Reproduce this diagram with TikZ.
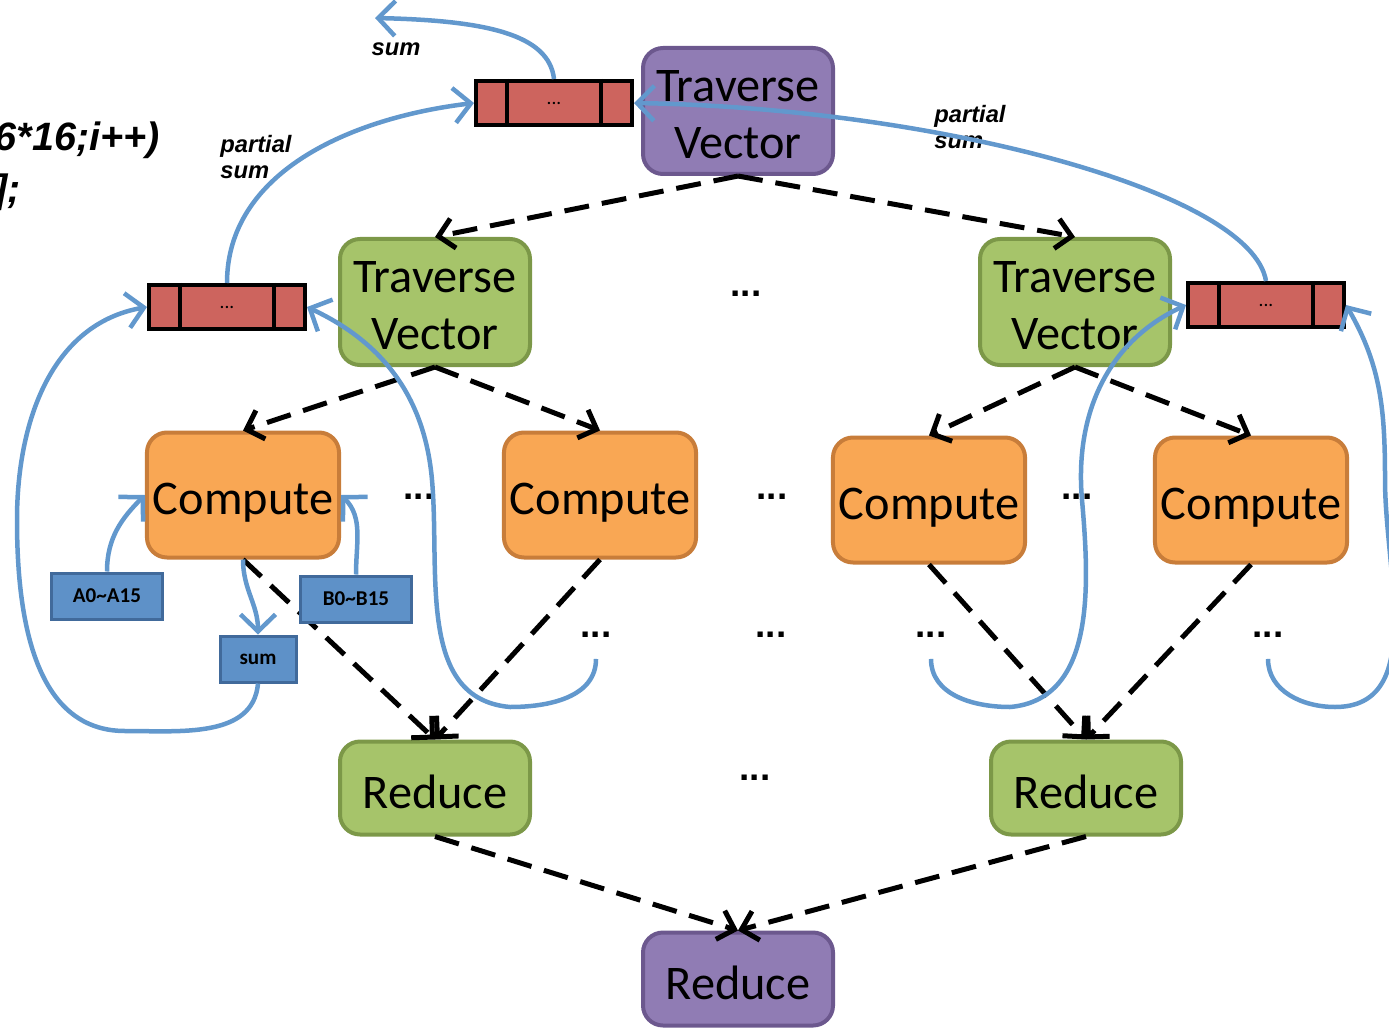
\documentclass[tikz,border=0pt]{standalone}
\usepackage{fontspec}
\setmainfont{Carlito}
\newfontfamily\arialfont{Liberation Sans}
\usepackage{tikz}
\usetikzlibrary{arrows.meta,positioning}

\definecolor{tvpurple}{RGB}{144,124,180}
\definecolor{purpleline}{RGB}{108,88,142}
\definecolor{tvgreen}{RGB}{166,196,106}
\definecolor{greenline}{RGB}{124,152,72}
\definecolor{cporange}{RGB}{249,167,84}
\definecolor{orangeline}{RGB}{200,125,58}
\definecolor{bufred}{RGB}{205,100,94}
\definecolor{regblue}{RGB}{94,145,200}
\definecolor{blueline}{RGB}{65,106,155}
\definecolor{flowblue}{RGB}{98,152,205}

\tikzstyle{bigbox} = [line width=0.08cm, rounded corners=0.4cm, minimum width=3.8cm, align=center, font=\fontsize{27.5}{32.5}\selectfont]
\tikzstyle{purplebox} = [bigbox, draw=purpleline, fill=tvpurple]
\tikzstyle{greenbox} = [bigbox, draw=greenline, fill=tvgreen]
\tikzstyle{tvbox} = [minimum height=2.52cm, text height=54.5pt]
\tikzstyle{reducebox} = [minimum height=1.86cm, text height=24pt]
\tikzstyle{computebox} = [bigbox, draw=orangeline, fill=cporange, minimum height=2.5cm, text height=27pt]
\tikzstyle{bufbox} = [draw=black, fill=bufred, line width=0.08cm, minimum width=3.12cm, minimum height=0.88cm, font=\fontsize{11}{12}\selectfont]
\tikzstyle{regbox} = [draw=blueline, fill=regblue, line width=0.06cm, minimum height=0.92cm, font=\bfseries\fontsize{12}{14}\selectfont]
\tikzstyle{dots} = [font=\arialfont\bfseries\fontsize{21}{22}\selectfont]
\tikzstyle{labeltext} = [inner sep=0pt, align=left, font=\arialfont\bfseries\itshape\fontsize{13.5}{14.7}\selectfont]
\tikzstyle{codetext} = [inner sep=0pt, font=\arialfont\bfseries\itshape\fontsize{22.5}{26}\selectfont]
\tikzstyle{dasharrow} = [line width=0.1cm, dash pattern=on 0.5cm off 0.26cm, -{Straight Barb[length=0.3cm,width=0.6cm]}]
\tikzstyle{bluearrow} = [line width=0.09cm, flowblue, -{Straight Barb[length=0.34cm,width=0.7cm]}]

\begin{document}
\begin{tikzpicture}
\useasboundingbox (0,0) rectangle (27.78,-20.56);

\node[codetext, anchor=east] (code1) at (3.20,-2.80) {6*16;i++)};
\node[codetext, anchor=east] (code2) at (0.42,-3.84) {];};

\node[purplebox, tvbox] (tvtop) at (14.76,-2.22) {Traverse\\Vector};
\node[greenbox, tvbox] (tvleft) at (8.70,-6.04) {Traverse\\Vector};
\node[greenbox, tvbox] (tvright) at (21.50,-6.04) {Traverse\\Vector};

\node[bufbox] (buftop) at (11.08,-2.06) {...};
\node[bufbox] (bufleft) at (4.54,-6.14) {...};
\node[bufbox] (bufright) at (25.32,-6.10) {...};
\foreach \b in {buftop,bufleft,bufright}{
    \draw[line width=0.08cm] ([xshift=0.66cm]\b.north west) -- ([xshift=0.66cm]\b.south west);
    \draw[line width=0.08cm] ([xshift=-0.66cm]\b.north east) -- ([xshift=-0.66cm]\b.south east);
}

\node[computebox] (comp1) at (4.86,-9.90) {Compute};
\node[computebox] (comp2) at (12.00,-9.90) {Compute};
\node[computebox] (comp3) at (18.58,-10.00) {Compute};
\node[computebox] (comp4) at (25.02,-10.00) {Compute};

\node[greenbox, reducebox] (red1) at (8.70,-15.76) {Reduce};
\node[greenbox, reducebox] (red2) at (21.72,-15.76) {Reduce};
\node[purplebox, reducebox] (redbot) at (14.76,-19.58) {Reduce};

\node[dots] (dotsTV) at (14.92,-5.88) {...};
\node[dots] (dotsC1) at (8.38,-9.94) {...};
\node[dots] (dotsC2) at (15.44,-9.94) {...};
\node[dots] (dotsC3) at (21.54,-9.94) {...};
\node[dots] (dotsA) at (11.92,-12.70) {...};
\node[dots] (dotsB) at (15.42,-12.70) {...};
\node[dots] (dotsC) at (18.62,-12.70) {...};
\node[dots] (dotsD) at (25.36,-12.70) {...};
\node[dots] (dotsR) at (15.10,-15.56) {...};

\foreach \a/\b in {tvtop/tvleft,tvtop/tvright,tvleft/comp1,tvleft/comp2,tvright/comp3,tvright/comp4,comp1/red1,comp2/red1,comp3/red2,comp4/red2,red1/redbot,red2/redbot}{
    \draw[dasharrow] (\a.south) -- (\b.north);
}

\node[regbox, minimum width=2.22cm] (boxA) at (2.14,-11.92) {A0\textasciitilde A15};
\node[regbox, minimum width=2.22cm] (boxB) at (7.12,-11.98) {B0\textasciitilde B15};
\node[regbox, minimum width=1.52cm] (sum) at (5.16,-13.18) {sum};

\node[labeltext] (sumlabel) at (7.92,-0.98) {sum};
\node[labeltext, anchor=west] (psleft) at (4.40,-3.14) {partial\\sum};
\node[labeltext, anchor=west] (psright) at (18.68,-2.54) {partial\\sum};

\coordinate (sumout) at (7.50,-0.36);
\coordinate (loopL1) at (2.50,-14.62);
\coordinate (loopL2) at (0.34,-10.40);
\coordinate (loopA1) at (10.20,-14.14);
\coordinate (loopA2) at (8.64,-9.60);
\coordinate (loopC1) at (20.20,-14.14);
\coordinate (loopC2) at (21.64,-10.00);
\coordinate (loopD1) at (26.70,-14.14);
\coordinate (loopD2) at (27.70,-9.60);

\draw[bluearrow] (buftop.north) .. controls +(-0.1,0.9) and +(2.2,-0.05) .. (sumout);
\draw[bluearrow] (bufleft.north) .. controls +(0,2.2) and +(-2.5,-0.3) .. (buftop.west);
\draw[bluearrow] (bufright.north) .. controls +(-0.3,1.8) and +(6,-0.1) .. (buftop.east);
\draw[bluearrow] (sum.south) to[out=-95,in=0] (loopL1) to[out=180,in=-90] (loopL2) to[out=90,in=190] (bufleft.west);
\draw[bluearrow] ([yshift=-0.3cm]dotsA.south) to[out=-90,in=0] (loopA1) to[out=175,in=-85] (loopA2) to[out=95,in=-25] (bufleft.east);
\draw[bluearrow] ([yshift=-0.3cm]dotsC.south) to[out=-90,in=180] (loopC1) to[out=5,in=-85] (loopC2) to[out=95,in=205] (bufright.west);
\draw[bluearrow] ([yshift=-0.3cm]dotsD.south) to[out=-90,in=180] (loopD1) to[out=0,in=-90] (loopD2) to[out=90,in=-60] (bufright.east);
\draw[bluearrow] (boxA.north) to[out=90,in=225] (comp1.west);
\draw[bluearrow] (boxB.north) to[out=90,in=-45] (comp1.east);
\draw[bluearrow] (comp1.south) to[out=-90,in=90] (sum.north);
\end{tikzpicture}
\end{document}
